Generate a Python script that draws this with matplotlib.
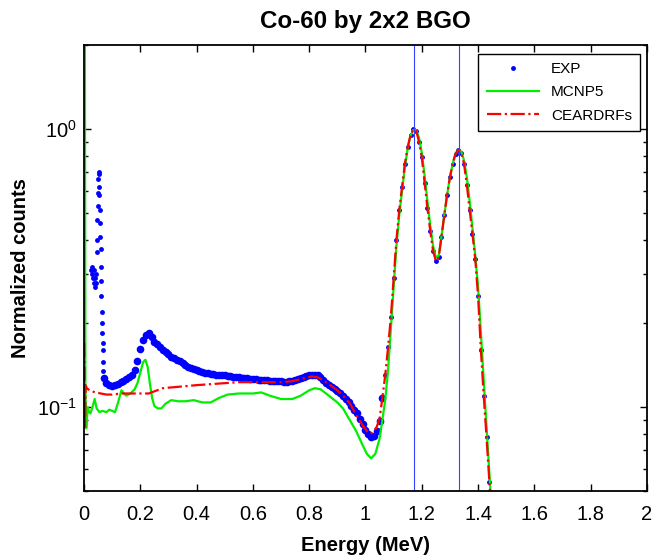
import numpy as np
import matplotlib
matplotlib.use('Agg')
import matplotlib.pyplot as plt
from matplotlib.ticker import FuncFormatter, LogLocator, NullFormatter

plt.rcParams['font.family'] = 'Liberation Sans'
plt.rcParams['mathtext.default'] = 'regular'
plt.rcParams['font.size'] = 14.5

# measured spectrum, channel grid 0.07 .. 1.44 MeV
exp_energy = np.round(np.arange(0.07, 1.445, 0.01), 2)
exp_counts = [
    0.127, 0.122, 0.120, 0.119, 0.120, 0.121, 0.123, 0.124, 0.126, 0.128,
    0.131, 0.136, 0.146, 0.162, 0.174, 0.181, 0.184, 0.178, 0.172, 0.168,
    0.164, 0.161, 0.158, 0.155, 0.152, 0.150, 0.148, 0.146, 0.144, 0.142,
    0.140, 0.138, 0.137, 0.136, 0.135, 0.134, 0.133, 0.133, 0.132, 0.132,
    0.131, 0.131, 0.130, 0.130, 0.129, 0.129, 0.128, 0.128, 0.128, 0.127,
    0.127, 0.127, 0.126, 0.126, 0.126, 0.125, 0.125, 0.125, 0.125, 0.124,
    0.124, 0.124, 0.124, 0.124, 0.123, 0.123, 0.124, 0.124, 0.125, 0.126,
    0.127, 0.128, 0.129, 0.130, 0.131, 0.131, 0.130, 0.128, 0.125, 0.122,
    0.120, 0.118, 0.116, 0.114, 0.112, 0.110, 0.107, 0.104, 0.101, 0.098,
    0.095, 0.091, 0.087, 0.083, 0.080, 0.078, 0.079, 0.082, 0.089, 0.108,
    0.130, 0.165, 0.210, 0.290, 0.400, 0.510, 0.620, 0.750, 0.860, 0.950,
    0.995, 0.985, 0.900, 0.790, 0.640, 0.520, 0.430, 0.365, 0.335, 0.345,
    0.410, 0.490, 0.580, 0.670, 0.750, 0.815, 0.840, 0.820, 0.750, 0.630,
    0.510, 0.420, 0.340, 0.250, 0.160, 0.110, 0.078, 0.054]

# low energy x-ray spike of the measurement
spike_energy = [0.026, 0.028, 0.030, 0.032, 0.034, 0.036, 0.038, 0.040, 0.042, 0.044,
                0.046, 0.047, 0.048, 0.049, 0.050, 0.051, 0.052, 0.053, 0.054, 0.055,
                0.056, 0.057, 0.058, 0.059, 0.060, 0.061, 0.062, 0.063, 0.064, 0.065,
                0.066, 0.067, 0.068, 0.069]
spike_counts = [0.31, 0.32, 0.30, 0.29, 0.31, 0.28, 0.29, 0.27, 0.28, 0.30,
                0.36, 0.40, 0.47, 0.53, 0.59, 0.66, 0.70, 0.69, 0.62, 0.58,
                0.51, 0.46, 0.41, 0.37, 0.32, 0.285, 0.25, 0.22, 0.20, 0.185,
                0.17, 0.16, 0.145, 0.135]

mcnp_energy = [0.003, 0.005, 0.008, 0.010, 0.014, 0.018, 0.023, 0.030, 0.038, 0.045,
               0.055, 0.065, 0.080, 0.090, 0.100, 0.110, 0.120, 0.133, 0.142, 0.150,
               0.165, 0.180, 0.190, 0.200, 0.210, 0.218, 0.226, 0.234, 0.242, 0.250,
               0.262, 0.275, 0.290, 0.310, 0.335, 0.360, 0.390, 0.420, 0.450, 0.480,
               0.510, 0.550, 0.600, 0.630, 0.660, 0.700, 0.740, 0.770, 0.800, 0.820,
               0.840, 0.870, 0.900, 0.920, 0.944, 0.967, 0.990, 1.005, 1.020, 1.035,
               1.050, 1.060, 1.070, 1.080, 1.090, 1.100, 1.110, 1.120, 1.130, 1.140,
               1.150, 1.160, 1.170, 1.180, 1.190, 1.200, 1.210, 1.220, 1.230, 1.240,
               1.250, 1.260, 1.270, 1.280, 1.290, 1.300, 1.310, 1.320, 1.330, 1.340,
               1.350, 1.360, 1.370, 1.380, 1.390, 1.400, 1.410, 1.420, 1.430, 1.440,
               1.450]
mcnp_counts = [3.0, 0.12, 0.084, 0.090, 0.100, 0.096, 0.095, 0.100, 0.107, 0.099,
               0.096, 0.097, 0.096, 0.098, 0.097, 0.096, 0.103, 0.115, 0.112, 0.110,
               0.112, 0.116, 0.122, 0.133, 0.145, 0.148, 0.140, 0.122, 0.108, 0.101,
               0.099, 0.099, 0.103, 0.106, 0.105, 0.105, 0.106, 0.104, 0.104, 0.108,
               0.111, 0.112, 0.112, 0.113, 0.110, 0.107, 0.107, 0.110, 0.115, 0.117,
               0.116, 0.110, 0.104, 0.099, 0.090, 0.082, 0.073, 0.068, 0.0655, 0.068,
               0.077, 0.090, 0.106, 0.135, 0.190, 0.270, 0.380, 0.490, 0.600, 0.730,
               0.850, 0.945, 0.990, 0.990, 0.930, 0.820, 0.680, 0.550, 0.450, 0.380,
               0.345, 0.350, 0.410, 0.490, 0.580, 0.670, 0.750, 0.815, 0.840, 0.830,
               0.770, 0.670, 0.550, 0.440, 0.350, 0.270, 0.185, 0.125, 0.085, 0.058,
               0.040]

ceard_energy = [0.001, 0.002, 0.003, 0.004, 0.006, 0.010, 0.020, 0.040, 0.060, 0.080,
                0.100, 0.130, 0.160, 0.200, 0.230, 0.260, 0.280, 0.320, 0.360, 0.400,
                0.450, 0.500, 0.550, 0.600, 0.650, 0.700, 0.740, 0.780, 0.810, 0.830,
                0.850, 0.870, 0.900, 0.920, 0.945, 0.967, 0.990, 1.005, 1.015, 1.025,
                1.040, 1.050, 1.060, 1.070, 1.080, 1.090, 1.100, 1.110, 1.120, 1.130,
                1.140, 1.150, 1.160, 1.170, 1.180, 1.190, 1.200, 1.210, 1.220, 1.230,
                1.240, 1.250, 1.260, 1.270, 1.280, 1.290, 1.300, 1.310, 1.320, 1.330,
                1.340, 1.350, 1.360, 1.370, 1.380, 1.390, 1.400, 1.410, 1.420, 1.430,
                1.440, 1.450]
ceard_counts = [0.17, 0.14, 0.09, 0.085, 0.12, 0.117, 0.115, 0.113, 0.112, 0.111,
                0.111, 0.112, 0.112, 0.112, 0.112, 0.115, 0.117, 0.118, 0.119, 0.120,
                0.121, 0.122, 0.123, 0.123, 0.123, 0.123, 0.124, 0.127, 0.129, 0.128,
                0.125, 0.121, 0.115, 0.110, 0.103, 0.094, 0.086, 0.082, 0.0805, 0.081,
                0.085, 0.091, 0.108, 0.130, 0.163, 0.210, 0.290, 0.400, 0.510, 0.620,
                0.750, 0.860, 0.950, 0.995, 0.985, 0.900, 0.790, 0.640, 0.520, 0.430,
                0.365, 0.335, 0.345, 0.410, 0.490, 0.580, 0.670, 0.750, 0.815, 0.840,
                0.820, 0.750, 0.630, 0.510, 0.420, 0.340, 0.250, 0.160, 0.110, 0.078,
                0.054, 0.038]

# Co-60 gamma lines
peak_lines = [1.173, 1.332]

exp_counts = np.array(exp_counts)
flat = exp_energy < 1.065   # noisy continuum shows as a thick band

fig = plt.figure(figsize=(6.54, 5.56), dpi=100)
ax = fig.add_axes([0.1284, 0.1169, 0.8609, 0.8022])

ax.plot(exp_energy[flat], exp_counts[flat], '.', color='blue', ms=11, mew=0)
ax.plot(exp_energy[~flat], exp_counts[~flat], '.', color='blue', ms=7, mew=0)
ax.plot(spike_energy, spike_counts, '.', color='blue', ms=7, mew=0, label='EXP')
ax.plot(mcnp_energy, mcnp_counts, '-', color='#00ee00', lw=1.6, label='MCNP5')
ax.plot(ceard_energy, ceard_counts, '-.', color='red', lw=1.6, label='CEARDRFs')
for e in peak_lines:
    ax.axvline(e, color='#3344ff', lw=0.8)

ax.set_yscale('log')
ax.set_xlim(0, 2)
ax.set_ylim(0.05, 2)
ax.set_xticks(np.arange(0, 2.01, 0.2))
ax.xaxis.set_major_formatter(FuncFormatter(lambda v, p: '%g' % round(v, 2)))
ax.yaxis.set_minor_locator(LogLocator(base=10, subs=np.arange(2, 10)))
ax.yaxis.set_minor_formatter(NullFormatter())

ax.tick_params(which='both', direction='in', top=True, right=True, width=1)
ax.tick_params(which='major', length=5)
ax.tick_params(which='minor', length=3)
ax.tick_params(axis='x', pad=10)
ax.tick_params(axis='y', pad=5)
for s in ax.spines.values():
    s.set_linewidth(1.3)

ax.set_title('Co-60 by 2x2 BGO', fontweight='bold', pad=12)
ax.set_xlabel('Energy (MeV)', fontweight='bold', labelpad=9)
ax.set_ylabel('Normalized counts', fontweight='bold', labelpad=5)

leg = ax.legend(loc='upper right', bbox_to_anchor=(0.988, 0.98), borderaxespad=0,
                fontsize=11, fancybox=False, edgecolor='black', framealpha=1,
                handlelength=3.4, handletextpad=0.8, labelspacing=0.6,
                borderpad=0.55)
leg.get_frame().set_linewidth(1.0)

plt.savefig('out.png', dpi=100)
